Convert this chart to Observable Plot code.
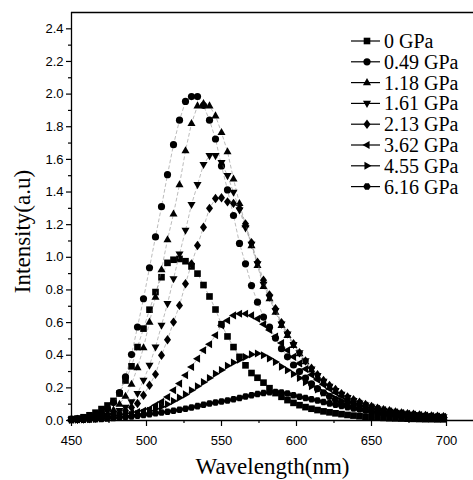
<!DOCTYPE html>
<html><head><meta charset="utf-8">
<script src="https://cdn.jsdelivr.net/npm/d3@7"></script>
<script src="https://cdn.jsdelivr.net/npm/@observablehq/plot@0.6"></script>
<style>
body{margin:0;background:#fff;}
#wrap{position:relative;width:473px;height:480px;overflow:hidden;}
</style></head><body><div id="wrap"></div>
<script>
const wavelengths = [450,454,458,462,466,470,474,478,482,486,490,494,498,502,506,510,514,518,522,526,530,534,538,542,546,550,554,558,562,566,570,574,578,582,586,590,594,598,602,606,610,614,618,622,626,630,634,638,642,646,650,654,658,662,666,670,674,678,682,686,690,694,698];

const gpa0 = [0.008,0.012,0.02,0.032,0.048,0.07,0.092,0.12,0.165,0.245,
 0.332,0.45,0.563,0.679,0.787,0.878,0.966,0.985,0.99,0.976,
 0.944,0.9,0.83,0.76,0.68,0.59,0.515,0.45,0.39,0.338,
 0.291,0.262,0.232,0.198,0.168,0.145,0.125,0.108,0.094,0.082,
 0.072,0.064,0.056,0.05,0.044,0.039,0.034,0.03,0.026,0.023,
 0.02,0.018,0.016,0.014,0.013,0.012,0.011,0.01,0.009,0.008,
 0.008,0.007,0.007];
const gpa049 = [0.008,0.01,0.014,0.02,0.03,0.045,0.07,0.11,0.171,0.267,
 0.404,0.573,0.746,0.936,1.125,1.31,1.506,1.69,1.84,1.955,
 1.985,1.985,1.93,1.84,1.725,1.56,1.413,1.256,1.085,0.96,
 0.827,0.725,0.634,0.572,0.505,0.44,0.39,0.34,0.3,0.26,
 0.225,0.195,0.17,0.148,0.128,0.11,0.096,0.084,0.074,0.065,
 0.057,0.05,0.044,0.039,0.035,0.031,0.028,0.025,0.022,0.02,
 0.018,0.016,0.015];
const gpa118 = [0.006,0.008,0.01,0.014,0.02,0.03,0.045,0.065,0.1,0.149,
 0.222,0.324,0.446,0.603,0.756,0.924,1.108,1.266,1.445,1.653,
 1.82,1.928,1.943,1.928,1.867,1.765,1.647,1.48,1.33,1.2,
 1.072,0.95,0.821,0.746,0.664,0.583,0.522,0.46,0.41,0.36,
 0.31,0.27,0.235,0.205,0.18,0.157,0.138,0.12,0.105,0.092,
 0.08,0.07,0.062,0.055,0.049,0.044,0.039,0.035,0.031,0.028,
 0.025,0.023,0.021];
const gpa161 = [0.005,0.006,0.008,0.01,0.014,0.02,0.03,0.045,0.06,0.08,
 0.114,0.165,0.246,0.338,0.45,0.583,0.716,0.868,1.02,1.165,
 1.323,1.445,1.568,1.623,1.623,1.58,1.5,1.398,1.29,1.18,
 1.08,0.96,0.835,0.755,0.672,0.59,0.53,0.465,0.415,0.365,
 0.315,0.275,0.24,0.21,0.184,0.16,0.14,0.122,0.107,0.094,
 0.082,0.072,0.063,0.056,0.05,0.045,0.04,0.036,0.032,0.029,
 0.026,0.024,0.022];
const gpa213 = [0.005,0.007,0.01,0.012,0.015,0.02,0.025,0.035,0.045,0.06,
 0.08,0.104,0.155,0.216,0.283,0.4,0.495,0.603,0.705,0.838,
 0.96,1.072,1.184,1.3,1.36,1.365,1.34,1.33,1.3,1.205,
 1.09,0.97,0.86,0.77,0.685,0.6,0.535,0.47,0.415,0.365,
 0.32,0.28,0.245,0.215,0.19,0.165,0.145,0.127,0.112,0.098,
 0.086,0.076,0.067,0.06,0.053,0.047,0.042,0.038,0.034,0.031,
 0.028,0.026,0.024];
const gpa362 = [0.005,0.006,0.008,0.01,0.013,0.016,0.02,0.025,0.03,0.037,
 0.045,0.052,0.06,0.07,0.094,0.114,0.144,0.185,0.226,0.277,
 0.328,0.379,0.43,0.467,0.522,0.583,0.613,0.644,0.654,0.654,
 0.644,0.624,0.59,0.555,0.515,0.475,0.43,0.39,0.35,0.315,
 0.28,0.25,0.22,0.195,0.172,0.152,0.134,0.118,0.104,0.092,
 0.081,0.072,0.064,0.057,0.051,0.046,0.041,0.037,0.033,0.03,
 0.027,0.025,0.023];
const gpa455 = [0.004,0.005,0.006,0.008,0.01,0.012,0.015,0.019,0.024,0.029,
 0.035,0.04,0.045,0.06,0.072,0.085,0.1,0.12,0.14,0.16,
 0.185,0.21,0.235,0.26,0.287,0.31,0.335,0.355,0.373,0.389,
 0.405,0.41,0.4,0.38,0.358,0.33,0.308,0.285,0.26,0.235,
 0.21,0.19,0.17,0.152,0.135,0.12,0.107,0.095,0.085,0.076,
 0.068,0.06,0.054,0.048,0.043,0.038,0.034,0.031,0.028,0.025,
 0.023,0.021,0.019];
const gpa616 = [0.003,0.004,0.005,0.006,0.008,0.01,0.012,0.015,0.018,0.021,
 0.025,0.029,0.034,0.039,0.044,0.049,0.054,0.06,0.066,0.072,
 0.08,0.088,0.096,0.104,0.11,0.117,0.123,0.13,0.138,0.147,
 0.155,0.162,0.168,0.173,0.175,0.172,0.165,0.155,0.146,0.138,
 0.13,0.122,0.113,0.105,0.097,0.089,0.082,0.074,0.067,0.061,
 0.055,0.049,0.044,0.04,0.036,0.032,0.029,0.026,0.023,0.021,
 0.019,0.017,0.015];

const seriesNames = ["0 GPa","0.49 GPa","1.18 GPa","1.61 GPa","2.13 GPa","3.62 GPa","4.55 GPa","6.16 GPa"];
const seriesValues = [gpa0, gpa049, gpa118, gpa161, gpa213, gpa362, gpa455, gpa616];
const xTicks = [450,500,550,600,650,700];
const xMinorTicks = [475,525,575,625,675];
const yTicks = [0,0.2,0.4,0.6,0.8,1.0,1.2,1.4,1.6,1.8,2.0,2.2,2.4];
const yMinorTicks = [0.1,0.3,0.5,0.7,0.9,1.1,1.3,1.5,1.7,1.9,2.1,2.3];
const xTitle = "Wavelength(nm)";
const yTitle = "Intensity(a.u)";

// custom marker shapes
function poly(pts, k) {
  return {draw(ctx, size) {
    const r = Math.sqrt(size / Math.PI) * k;
    ctx.moveTo(pts[0][0] * r, pts[0][1] * r);
    for (let i = 1; i < pts.length; i++) ctx.lineTo(pts[i][0] * r, pts[i][1] * r);
    ctx.closePath();
  }};
}
const hexPts = d3.range(6).map(i => [Math.cos(i * Math.PI / 3), Math.sin(i * Math.PI / 3)]);
const symbols = [
  poly([[-1,-1],[1,-1],[1,1],[-1,1]], 0.92),
  d3.symbolCircle,
  poly([[0,-1.25],[1.12,0.72],[-1.12,0.72]], 1),
  poly([[0,1.25],[1.12,-0.72],[-1.12,-0.72]], 1),
  poly([[0,-1.3],[0.98,0],[0,1.3],[-0.98,0]], 1),
  poly([[-1.25,0],[0.72,-1.12],[0.72,1.12]], 1),
  poly([[1.25,0],[-0.72,-1.12],[-0.72,1.12]], 1),
  poly(hexPts, 1.05)
];

const R = 3.6;
const seriesMarks = [];
seriesValues.forEach((vals, i) => {
  const rows = wavelengths.map((w, j) => ({w, v: vals[j]}));
  seriesMarks.push(Plot.line(rows, {x: "w", y: "v", stroke: "#777", strokeWidth: 0.5, strokeDasharray: "3,3"}));
  seriesMarks.push(Plot.dot(rows, {x: "w", y: "v", symbol: symbols[i], r: R, fill: "#000", stroke: "none"}));
});

const serif = "'Liberation Serif','Times New Roman',serif";
const chart = Plot.plot({
  width: 473, height: 480,
  marginLeft: 71, marginRight: 0, marginTop: 12, marginBottom: 60,
  x: {domain: [450, 718]},
  y: {domain: [0, 2.5]},
  style: {fontFamily: "'Liberation Sans',Arial,sans-serif", fontSize: "13px", color: "#000", background: "#fff"},
  marks: [
    ...seriesMarks,
    Plot.ruleY([0, 2.5], {stroke: "#000", strokeWidth: 1.3}),
    Plot.ruleX([450], {stroke: "#000", strokeWidth: 1.3}),
    Plot.axisX({ticks: xTicks, tickSize: 6, tickPadding: 9, label: null, strokeWidth: 1.2, fontSize: 13}),
    Plot.axisX({ticks: xMinorTicks, tickSize: 3, tickFormat: () => "", label: null, strokeWidth: 1.2}),
    Plot.axisY({ticks: yTicks, tickSize: 5, tickPadding: 3, tickFormat: d3.format(".1f"), label: null, strokeWidth: 1.2, fontSize: 13}),
    Plot.axisY({ticks: yMinorTicks, tickSize: 3, tickFormat: () => "", label: null, strokeWidth: 1.2}),
    Plot.text([xTitle], {text: d => d, frameAnchor: "bottom", textAnchor: "middle", lineAnchor: "middle", dy: 46, fontSize: 23, fontFamily: serif, fill: "#000"}),
    Plot.text([yTitle], {text: d => d, frameAnchor: "left", textAnchor: "middle", lineAnchor: "middle", rotate: -90, dx: -49, dy: 15, fontSize: 23, fontFamily: serif, fill: "#000"})
  ]
});
const wrap = document.getElementById("wrap");
wrap.appendChild(chart);

// legend overlay
const legTop = 41, legStep = 20.8;
const leg = d3.create("svg").attr("width", 473).attr("height", 480)
  .style("position", "absolute").style("left", "0").style("top", "0");
seriesNames.forEach((name, i) => {
  const y = legTop + i * legStep;
  leg.append("line").attr("x1", 351).attr("x2", 380).attr("y1", y).attr("y2", y)
    .attr("stroke", "#000").attr("stroke-width", 1.2);
  leg.append("path").attr("transform", `translate(367,${y})`)
    .attr("d", d3.symbol(symbols[i], Math.PI * R * R)()).attr("fill", "#000");
  leg.append("text").attr("x", 384).attr("y", y).attr("dy", "0.35em")
    .attr("font-family", serif).attr("font-size", 20).attr("fill", "#000").text(name);
});
wrap.appendChild(leg.node());
</script></body></html>
